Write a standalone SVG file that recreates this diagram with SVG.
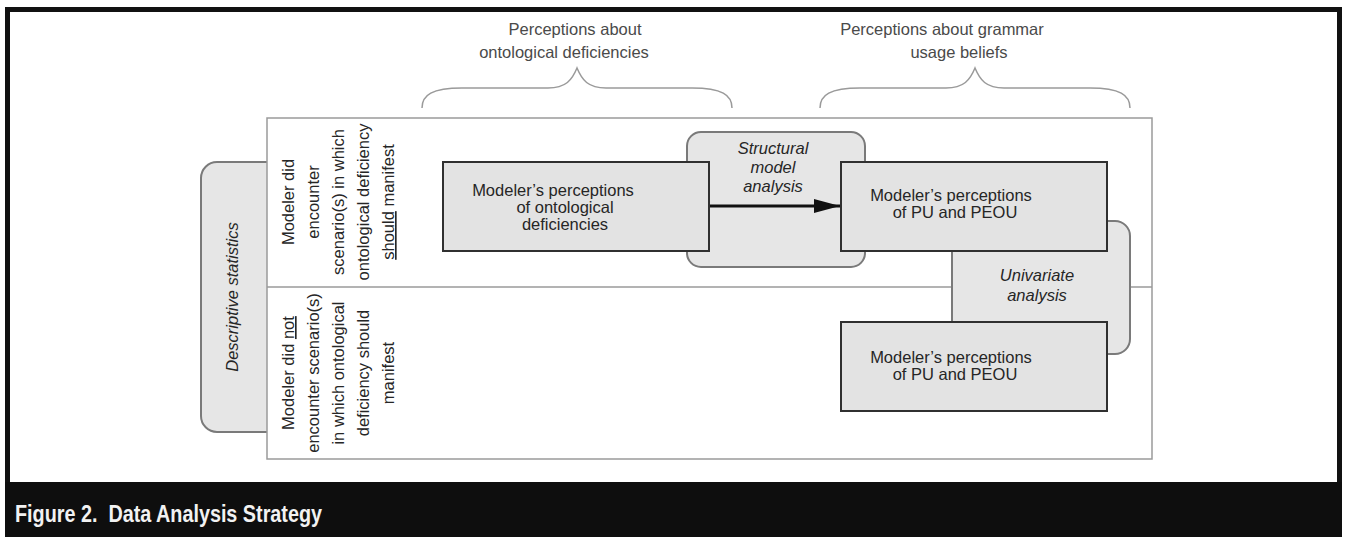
<svg xmlns="http://www.w3.org/2000/svg" width="1346" height="537" viewBox="0 0 1346 537">
<defs>
<style>
.t{font-family:"Liberation Sans",Arial,sans-serif;font-size:16.5px;fill:#262626}
.lab{font-family:"Liberation Sans",Arial,sans-serif;font-size:16.5px;fill:#4a4a4a}
.it{font-style:italic}
.box{fill:#e3e3e3;stroke:#303030;stroke-width:2}
.rbox{fill:#e6e6e6;stroke:#7a7a7a;stroke-width:2}
.brace{fill:none;stroke:#9a9a9a;stroke-width:1.5}
.u{text-decoration:underline}
</style>
<marker id="ah2" viewBox="0 0 26 14" refX="26" refY="7" markerWidth="26" markerHeight="14" markerUnits="userSpaceOnUse" orient="auto">
<path d="M0,0 L26,7 L0,14 Z" fill="#111"/>
</marker>
</defs>
<rect x="0" y="0" width="1346" height="537" fill="#ffffff"/>
<!-- outer frame -->
<rect x="7.5" y="9.5" width="1332" height="475" fill="none" stroke="#111" stroke-width="5"/>
<rect x="5" y="482" width="1337" height="55" fill="#0e0e0e"/>
<text x="15" y="522" xml:space="preserve" font-family="'Liberation Sans',Arial,sans-serif" font-weight="bold" font-size="24" fill="#f2f2f2" textLength="307" lengthAdjust="spacingAndGlyphs">Figure 2.  Data Analysis Strategy</text>

<!-- top labels -->
<g id="label-ontological">
<text class="lab" text-anchor="middle"><tspan x="575" y="35">Perceptions about</tspan><tspan x="564" y="58">ontological deficiencies</tspan></text>
<path class="brace" d="M422,108 C422,95 432,88 462,88 L548,88 C566,88 572,80 577,68 C582,80 588,88 606,88 L692,88 C722,88 732,95 732,108"/>
</g>
<g id="label-grammar">
<text class="lab" text-anchor="middle"><tspan x="942" y="35">Perceptions about grammar</tspan><tspan x="959" y="58">usage beliefs</tspan></text>
<path class="brace" d="M820,108 C820,95 830,88 860,88 L946,88 C964,88 970,80 975,68 C980,80 986,88 1004,88 L1090,88 C1120,88 1130,95 1130,108"/>
</g>

<!-- descriptive statistics -->
<g id="descriptive-statistics">
<rect class="rbox" x="201" y="162" width="120" height="270" rx="16"/>
<text class="t it" text-anchor="middle" transform="translate(0,297) rotate(-90)"><tspan x="0" y="238">Descriptive statistics</tspan></text>
</g>

<!-- main table -->
<g id="table">
<rect x="267" y="118" width="885" height="341" fill="#ffffff" stroke="#9a9a9a" stroke-width="1.5"/>
<line x1="267" y1="287" x2="1152" y2="287" stroke="#9a9a9a" stroke-width="1.5"/>
</g>
<g id="row-did">
<text class="t" text-anchor="middle" transform="translate(0,202) rotate(-90)"><tspan x="0" y="294">Modeler did</tspan><tspan x="0" y="319">encounter</tspan><tspan x="0" y="344">scenario(s) in which</tspan><tspan x="0" y="369">ontological deficiency</tspan><tspan x="0" y="394"><tspan class="u">should</tspan> manifest</tspan></text>
</g>
<g id="row-did-not">
<text class="t" text-anchor="middle" transform="translate(0,373) rotate(-90)"><tspan x="0" y="294">Modeler did <tspan class="u">not</tspan></tspan><tspan x="0" y="319">encounter scenario(s)</tspan><tspan x="0" y="344">in which ontological</tspan><tspan x="0" y="369">deficiency should</tspan><tspan x="0" y="394">manifest</tspan></text>
</g>

<!-- structural model analysis -->
<g id="structural-model-analysis">
<rect class="rbox" x="687" y="132" width="178" height="135" rx="14"/>
<text class="t it" text-anchor="middle"><tspan x="773" y="154">Structural</tspan><tspan x="773" y="173">model</tspan><tspan x="773" y="192">analysis</tspan></text>
</g>

<!-- univariate analysis -->
<g id="univariate-analysis">
<rect class="rbox" x="952" y="221" width="178" height="133" rx="15"/>
<text class="t it" text-anchor="middle"><tspan x="1037" y="281">Univariate</tspan><tspan x="1037" y="301">analysis</tspan></text>
</g>

<!-- box A -->
<g id="ontological-perceptions">
<rect class="box" x="443" y="162" width="266" height="89"/>
<text class="t" text-anchor="middle"><tspan x="553" y="196">Modeler’s perceptions</tspan><tspan x="565" y="213">of ontological</tspan><tspan x="565" y="230">deficiencies</tspan></text>
</g>

<!-- box B -->
<g id="pu-peou-did">
<rect class="box" x="841" y="162" width="266" height="89"/>
<text class="t" text-anchor="middle"><tspan x="951" y="201">Modeler’s perceptions</tspan><tspan x="955" y="218">of PU and PEOU</tspan></text>
</g>

<!-- box C -->
<g id="pu-peou-did-not">
<rect class="box" x="841" y="322" width="266" height="89"/>
<text class="t" text-anchor="middle"><tspan x="951" y="363">Modeler’s perceptions</tspan><tspan x="955" y="380">of PU and PEOU</tspan></text>
</g>

<!-- connectors -->
<g id="connectors">
<line x1="710" y1="206" x2="840" y2="206" stroke="#111" stroke-width="3" marker-end="url(#ah2)"/>
</g>
</svg>
